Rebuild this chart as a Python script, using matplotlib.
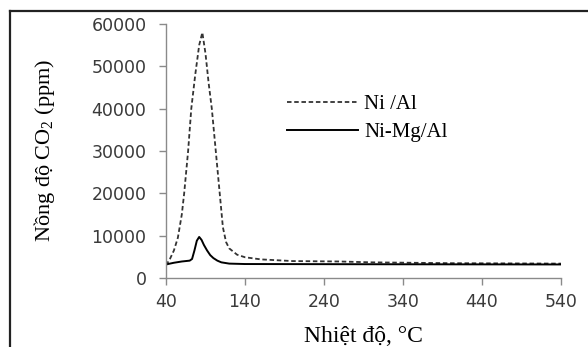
import matplotlib
matplotlib.use("Agg")
import matplotlib.pyplot as plt
from matplotlib.lines import Line2D

plt.rcParams['mathtext.fontset'] = 'custom'
plt.rcParams['mathtext.rm'] = 'Liberation Serif'

# CO2 concentration vs temperature
temp_nial = [40, 45, 50, 55, 60, 63, 68, 72, 77, 82, 86, 90, 94, 98, 103, 108,
             112, 116, 120, 130, 140, 160, 200, 260, 300, 400, 540]
co2_nial = [3000, 4500, 6500, 9500, 15000, 20000, 30000, 40000, 48000, 55000,
            58000, 53000, 46000, 40000, 30000, 20000, 12000, 8500, 7000, 5500,
            4900, 4400, 4000, 3900, 3700, 3500, 3400]

temp_nimg = [40, 50, 60, 70, 73, 76, 79, 82, 85, 88, 92, 96, 100, 105, 110,
             120, 140, 300, 540]
co2_nimg = [3200, 3600, 3900, 4100, 4500, 6500, 8800, 9700, 9000, 7800, 6500,
            5400, 4700, 4100, 3700, 3400, 3300, 3250, 3200]

xticks = [40, 140, 240, 340, 440, 540]
yticks = [0, 10000, 20000, 30000, 40000, 50000, 60000]

W, H = 588, 347
fig = plt.figure(figsize=(W / 100, H / 100), dpi=100)
ax = fig.add_axes([166 / W, 1 - 278 / H, (561 - 166) / W, (278 - 24) / H])

ax.plot(temp_nial, co2_nial, color='#333333', lw=1.3, ls=(0, (2.5, 1.5)),
        label='Ni /Al')
ax.plot(temp_nimg, co2_nimg, color='black', lw=1.4, label='Ni-Mg/Al')

ax.set_xlim(40, 540)
ax.set_ylim(0, 60000)
ax.set_xticks(xticks)
ax.set_yticks(yticks)

spine_col = '#8a8a8a'
for s in ['top', 'right']:
    ax.spines[s].set_visible(False)
for s in ['left', 'bottom']:
    ax.spines[s].set_color(spine_col)
    ax.spines[s].set_linewidth(1.0)
ax.tick_params(axis='both', direction='out', length=5, width=1.0,
               color=spine_col, labelcolor='#3a3a3a', labelsize=12.5)
ax.tick_params(axis='y', pad=9)
ax.tick_params(axis='x', pad=6)

leg = ax.legend(loc='upper left', bbox_to_anchor=(0.306, 0.722), frameon=False,
                prop={'family': 'Liberation Serif', 'size': 15},
                handlelength=3.4, handletextpad=0.3, labelspacing=0.4,
                borderpad=0, borderaxespad=0)

fig.text(45 / W, 1 - 150 / H, 'Nồng độ CO$_2$ (ppm)', rotation=90,
         ha='center', va='center', family='Liberation Serif', fontsize=16)
fig.text((166 + 561) / 2 / W, 5 / H, 'Nhiệt độ, °C', ha='center',
         va='baseline', family='Liberation Serif', fontsize=17)

# outer frame (only top and left edges visible in the crop)
fig.add_artist(Line2D([10 / W, 10 / W], [0, 1 - 11 / H], transform=fig.transFigure,
                      color='#222222', lw=1.6))
fig.add_artist(Line2D([10 / W, 1], [1 - 11 / H, 1 - 11 / H], transform=fig.transFigure,
                      color='#222222', lw=1.6))

fig.savefig('out.png', dpi=100)
